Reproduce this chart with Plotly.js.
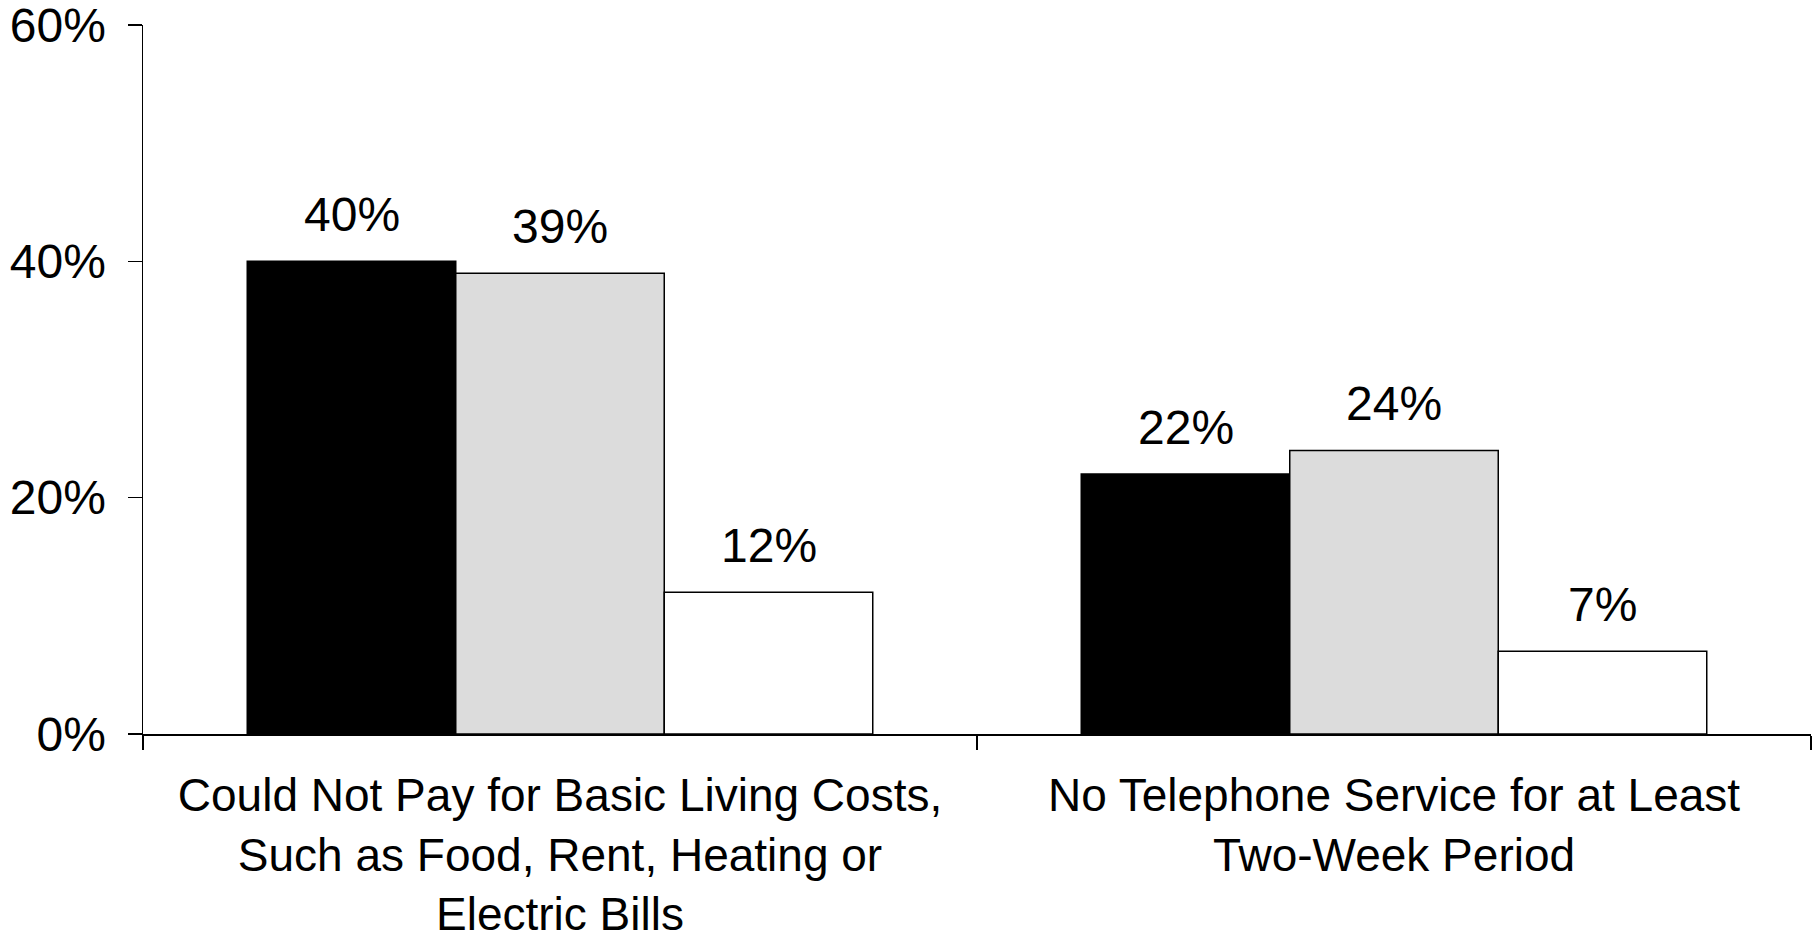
<!DOCTYPE html>
<html>
<head>
<meta charset="utf-8">
<script src="https://cdn.plot.ly/plotly-3.0.1.min.js"></script>
<style>html,body{margin:0;padding:0;background:#fff;}#chart{width:1818px;height:942px;}</style>
</head>
<body>
<div id="chart"></div>
<script>
const categories = [
  "Could Not Pay for Basic Living Costs,<br>Such as Food, Rent, Heating or<br>Electric Bills",
  "No Telephone Service for at Least<br>Two-Week Period"
];
const seriesNames = ["Series 1", "Series 2", "Series 3"];
const series1 = [40, 22];
const series2 = [39, 24];
const series3 = [12, 7];
const seriesColors = ["#000000", "#dcdcdc", "#ffffff"];
const yTicks = [0, 20, 40, 60];

const allSeries = [series1, series2, series3];
const FONT = "Liberation Sans, Arial, sans-serif";
const FS = 48;
const bargap = 0.25;

const traces = allSeries.map((vals, i) => ({
  type: "bar",
  name: seriesNames[i],
  x: categories,
  y: vals,
  marker: {color: seriesColors[i], line: {color: "#000", width: 1.5}},
  hoverinfo: "none"
}));

const n = allSeries.length;
const annotations = [];
allSeries.forEach((vals, i) => {
  const off = (i - (n - 1) / 2) * (1 - bargap) / n;
  vals.forEach((v, j) => {
    annotations.push({
      x: j + off, y: v, xref: "x", yref: "y",
      text: v + "%", showarrow: false,
      yanchor: "bottom", yshift: 18,
      font: {family: FONT, size: FS, color: "#000"}
    });
  });
});

const layout = {
  width: 1818, height: 942,
  margin: {l: 143, r: 7, t: 25, b: 208},
  paper_bgcolor: "#fff", plot_bgcolor: "#fff",
  barmode: "group", bargap: bargap, bargroupgap: 0,
  showlegend: false,
  font: {family: FONT, size: FS, color: "#000"},
  xaxis: {
    type: "category", range: [-0.5, 1.5],
    showline: true, linecolor: "#000", linewidth: 1.5,
    ticks: "outside", tickson: "boundaries", ticklen: 14, tickwidth: 1.5, tickcolor: "#000",
    showgrid: false, zeroline: false,
    tickfont: {family: FONT, size: 46, color: "#000"},
    ticklabelstandoff: 20,
    ticklabeloverflow: "allow"
  },
  yaxis: {
    range: [0, 60], tickvals: yTicks, ticktext: yTicks.map(t => t + "%"),
    showline: true, linecolor: "#000", linewidth: 1.5,
    ticks: "outside", ticklen: 14, tickwidth: 1.5, tickcolor: "#000",
    showgrid: false, zeroline: false,
    tickfont: {family: FONT, size: FS, color: "#000"},
    ticklabelstandoff: 12,
    ticklabeloverflow: "allow"
  },
  annotations: annotations
};

Plotly.newPlot("chart", traces, layout, {displayModeBar: false, staticPlot: true});
</script>
</body>
</html>
